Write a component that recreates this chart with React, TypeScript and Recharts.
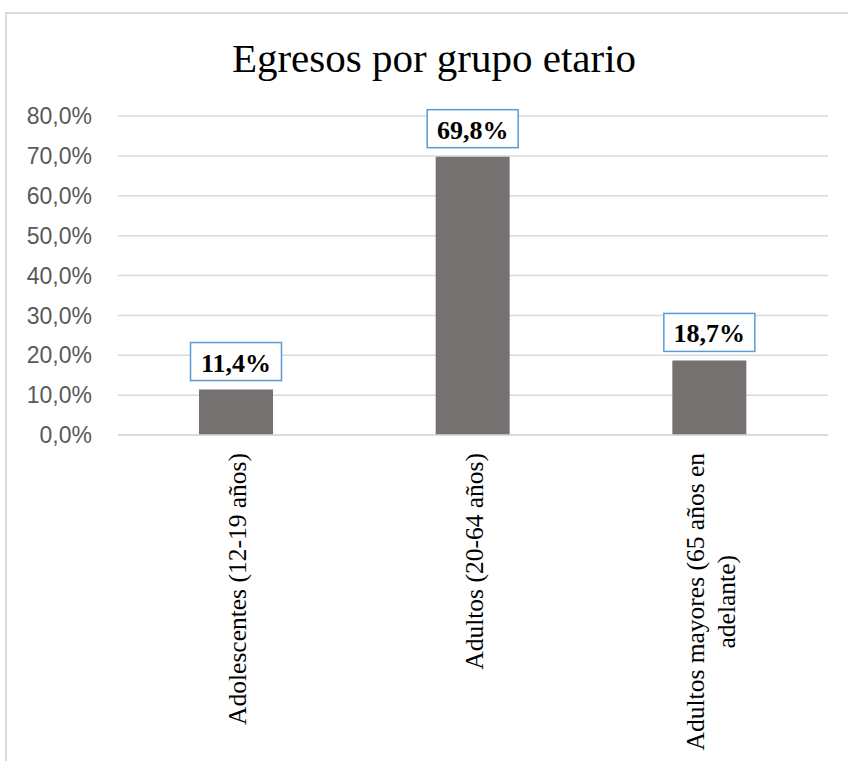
import { BarChart, Bar, XAxis, YAxis, CartesianGrid, LabelList } from "recharts";

const categories = [
  "Adolescentes (12-19 años)",
  "Adultos (20-64 años)",
  "Adultos mayores (65 años en adelante)",
];
// how each category label wraps under the axis
const tickLines = [
  ["Adolescentes (12-19 años)"],
  ["Adultos (20-64 años)"],
  ["Adultos mayores (65 años en", "adelante)"],
];
const shares = [11.4, 69.8, 18.7];
const yTicks = [0, 10, 20, 30, 40, 50, 60, 70, 80];

const data = categories.map((name, i) => ({ name, share: shares[i] }));

const fmt = (v: number) => v.toFixed(1).replace(".", ",") + "%";

const serif = "'Liberation Serif', 'Times New Roman', serif";
const sans = "'Liberation Sans', Arial, sans-serif";
const tickFontSize = 25.5;

let ctx: CanvasRenderingContext2D | null = null;
function textWidth(s: string, font: string) {
  if (!ctx) ctx = document.createElement("canvas").getContext("2d");
  if (!ctx) return s.length * 11;
  ctx.font = font;
  return ctx.measureText(s).width;
}

function XTick(props: any) {
  const { x, y, index } = props;
  const lines = tickLines[index] || [];
  const w = Math.max(...lines.map((l) => textWidth(l, `${tickFontSize}px 'Liberation Serif'`)));
  const top = y + 18;
  const lh = 31;
  return (
    <g>
      {lines.map((l, i) => {
        const cx = x + (i - (lines.length - 1) / 2) * lh + 10;
        const cy = top + w / 2;
        return (
          <text
            key={i}
            x={cx}
            y={cy}
            transform={`rotate(-90 ${cx} ${cy})`}
            textAnchor="middle"
            style={{ fontFamily: serif, fontSize: tickFontSize }}
            fill="#000"
          >
            {l}
          </text>
        );
      })}
    </g>
  );
}

function BoxLabel(props: any) {
  const { x, y, width, value } = props;
  const cx = x + width / 2;
  const bw = 91;
  const bh = 38;
  const by = y - 9 - bh;
  return (
    <g>
      <rect x={cx - bw / 2} y={by} width={bw} height={bh} fill="#fff" stroke="#5b9bd5" strokeWidth={1.5} />
      <text x={cx} y={by + bh - 9} textAnchor="middle" style={{ fontFamily: serif, fontWeight: "bold", fontSize: 26 }} fill="#000">
        {fmt(value)}
      </text>
    </g>
  );
}

export default function App() {
  return (
    <div style={{ position: "absolute", left: 0, top: 0, width: 848, height: 761, background: "#fff", overflow: "hidden" }}>
      <div
        style={{
          position: "absolute",
          left: 5,
          top: 12,
          width: 860,
          height: 760,
          borderLeft: "2px solid #d9d9d9",
          borderTop: "2px solid #d9d9d9",
        }}
      />
      <div
        style={{
          position: "absolute",
          left: 0,
          top: 34,
          width: 868,
          textAlign: "center",
          fontFamily: serif,
          fontSize: 41,
          lineHeight: "48px",
          color: "#000",
        }}
      >
        Egresos por grupo etario
      </div>
      <div style={{ position: "absolute", left: 0, top: 0 }}>
        <BarChart width={848} height={761} data={data} margin={{ top: 116, right: 20, bottom: 0, left: 0 }} barSize={74}>
          <CartesianGrid vertical={false} stroke="#d9d9d9" strokeWidth={1.5} />
          <XAxis
            dataKey="name"
            height={326}
            interval={0}
            axisLine={{ stroke: "#d9d9d9", strokeWidth: 1.5 }}
            tickLine={false}
            tickSize={0}
            tickMargin={0}
            tick={<XTick />}
          />
          <YAxis
            width={118}
            domain={[0, 80]}
            ticks={yTicks}
            interval={0}
            axisLine={false}
            tickLine={false}
            tickSize={0}
            tickMargin={26}
            tickFormatter={fmt}
            tick={{ fill: "#595959", fontFamily: sans, fontSize: 23 }}
          />
          <Bar dataKey="share" fill="#767171" isAnimationActive={false}>
            <LabelList dataKey="share" content={<BoxLabel />} />
          </Bar>
        </BarChart>
      </div>
    </div>
  );
}
